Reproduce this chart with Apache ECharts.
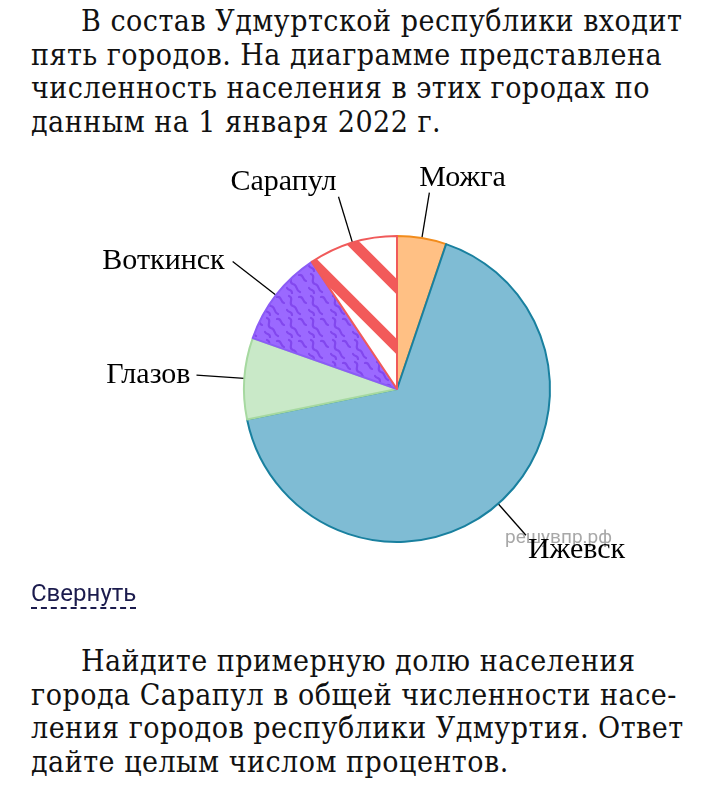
<!DOCTYPE html>
<html>
<head>
<meta charset="utf-8">
<script src="https://cdn.jsdelivr.net/npm/echarts@6/dist/echarts.min.js"></script>
<style>
  html, body { margin: 0; padding: 0; background: #fff; }
  body { width: 718px; height: 799px; position: relative; overflow: hidden; }
  .txt {
    position: absolute; left: 31px;
    font-family: "DejaVu Serif Condensed", "DejaVu Serif", serif;
    font-stretch: condensed;
    font-size: 30px; letter-spacing: 0.5px; line-height: 33.5px; color: #111;
    white-space: nowrap;
  }
  .ind { padding-left: 50px; }
  #more {
    position: absolute; left: 31px; top: 580px;
    font-family: Roboto, sans-serif; font-size: 24px; color: #1b1b4d;
    border-bottom: 2px dashed #1b1b4d; line-height: 27px;
  }
  #chart { position: absolute; left: 0; top: 140px; width: 718px; height: 440px; }
</style>
</head>
<body>
<div class="txt" style="top:4px"><span class="ind"></span>В состав Удмуртской республики входит<br>пять городов. На диаграмме представлена<br>численность населения в этих городах по<br>данным на 1 января 2022 г.</div>
<div id="chart"></div>
<div id="more">Свернуть</div>
<div class="txt" style="top:644px"><span class="ind"></span>Найдите примерную долю населения<br>города Сарапул в общей численности насе-<br>ления городов республики Удмуртия. Ответ<br>дайте целым числом процентов.</div>
<script>
var cities = ['Можга', 'Ижевск', 'Глазов', 'Воткинск', 'Сарапул'];
var shares = [5.2, 66.6, 8.6, 10.2, 9.4];

// fills and borders per slice
var fills = ['#ffc084', '#7fbcd4', '#c9e9c8', null, null];
var borders = ['#f28c1c', '#19809f', '#a6d9a0', '#8b5cf6', '#f05a5a'];
var lineLen = [46, 42, 48, 55, 48];
var labelGap = [-10, 2, 6, 8, 2];
var valign = ['bottom', 'top', 'middle', 'middle', 'bottom'];

function stripes() {
  var t = 60, c = document.createElement('canvas');
  c.width = t; c.height = t;
  var g = c.getContext('2d');
  g.fillStyle = '#fff'; g.fillRect(0, 0, t, t);
  g.strokeStyle = '#f25a5a'; g.lineWidth = 11;
  [-70, -10, 50, 110].forEach(function (k) {
    g.beginPath(); g.moveTo(-t, -t + k); g.lineTo(2 * t, 2 * t + k); g.stroke();
  });
  return c;
}

function waves() {
  var t = 22, c = document.createElement('canvas');
  c.width = t; c.height = t;
  var g = c.getContext('2d');
  g.fillStyle = '#9b69ff'; g.fillRect(0, 0, t, t);
  g.strokeStyle = '#8247ee'; g.lineWidth = 2.2; g.lineCap = 'round';
  g.beginPath();
  g.moveTo(3, 2); g.bezierCurveTo(9, 4, 1, 10, 7, 12); g.bezierCurveTo(12, 13, 9, 18, 14, 20);
  g.stroke();
  g.beginPath();
  g.moveTo(13, 3); g.bezierCurveTo(18, 2, 16, 8, 20, 9);
  g.stroke();
  g.beginPath();
  g.moveTo(1, 16); g.bezierCurveTo(3, 19, 6, 17, 6, 21);
  g.stroke();
  return c;
}

var pats = [null, null, null, { image: waves(), repeat: 'repeat' }, { image: stripes(), repeat: 'repeat' }];

var chart = echarts.init(document.getElementById('chart'));
chart.setOption({
  animation: false,
  graphic: [{
    type: 'text', left: 505, top: 389, z: 0,
    style: { text: 'решувпр.рф', fill: '#a8a8a8', font: '19px Roboto, sans-serif' }
  }],
  series: [{
    type: 'pie',
    z: 2,
    center: [397, 249],
    radius: 153,
    startAngle: 90,
    clockwise: true,
    avoidLabelOverlap: false,
    label: {
      show: true,
      position: 'outside',
      formatter: '{b}',
      fontFamily: 'Liberation Serif',
      fontSize: 30,
      color: '#000'
    },
    labelLine: { show: true, smooth: false, length2: 0, lineStyle: { color: '#000', width: 1.3 } },
    labelLayout: function (p) { return { verticalAlign: valign[p.dataIndex] }; },
    data: cities.map(function (n, i) {
      return {
        name: n,
        value: shares[i],
        itemStyle: { color: pats[i] || fills[i], borderColor: borders[i], borderWidth: 2 },
        label: { distanceToLabelLine: labelGap[i] },
        labelLine: { length: lineLen[i] }
      };
    })
  }]
});
</script>
</body>
</html>
